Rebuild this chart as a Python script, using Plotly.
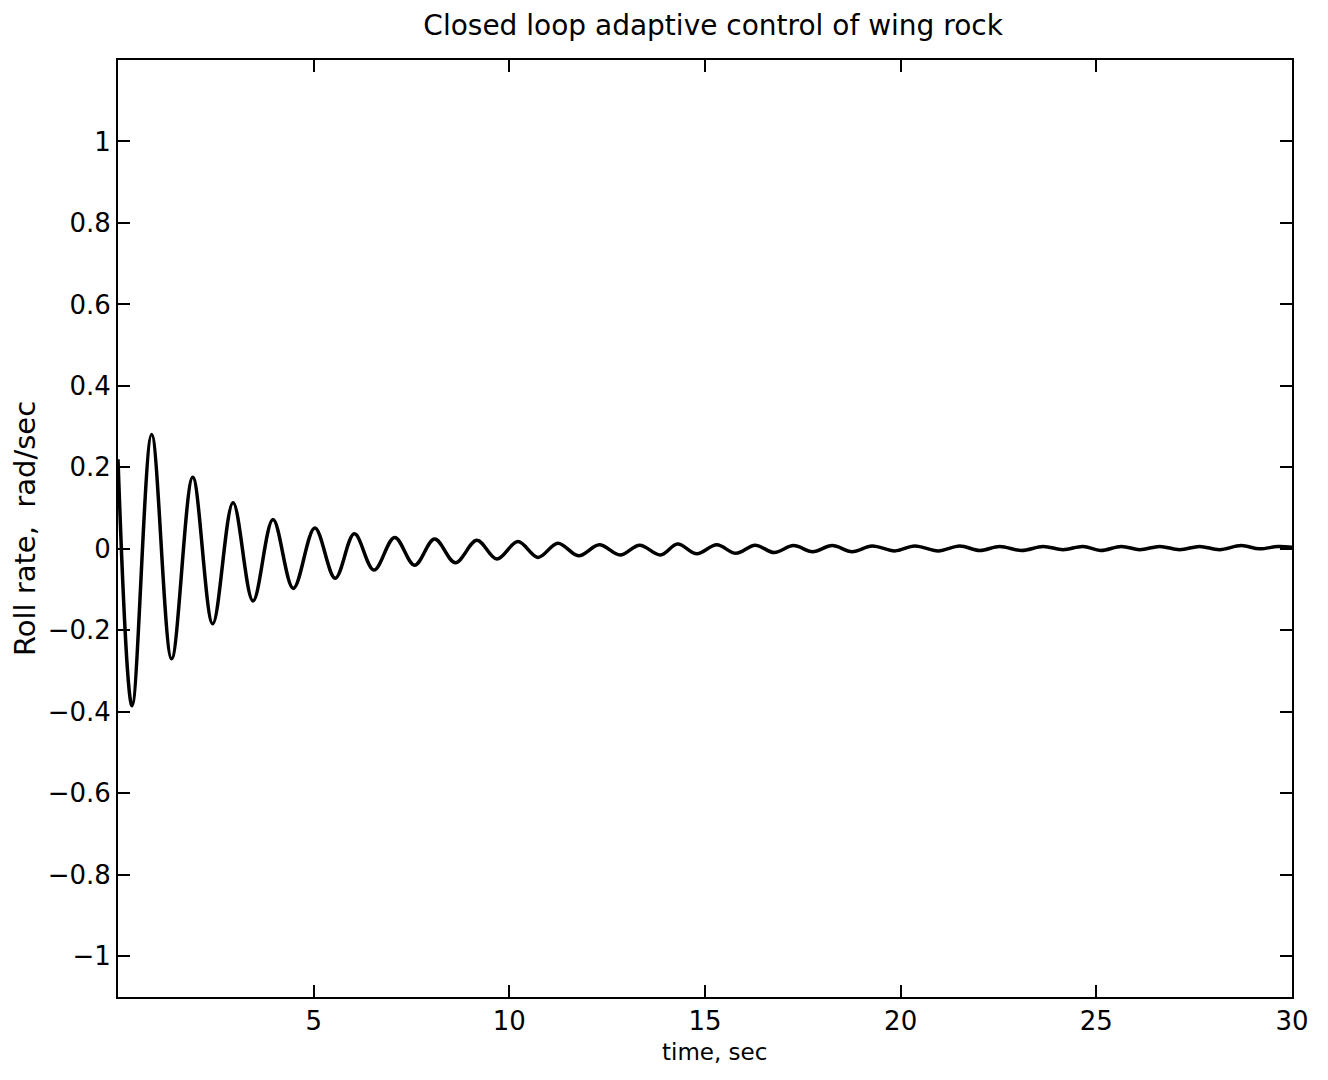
import plotly.graph_objects as go

# Time (s) and roll rate (rad/s) (extrema of the oscillation)
time_s = [0.0, 0.36, 0.86, 1.37, 1.91, 2.42, 2.94, 3.45, 3.96, 4.48, 5.03, 5.55,
          6.04, 6.54, 7.07, 7.58, 8.09, 8.62, 9.17, 9.68, 10.22, 10.73, 11.24, 11.77,
          12.30, 12.83, 13.33, 13.86, 14.30, 14.79, 15.30, 15.79, 16.28, 16.77, 17.26,
          17.75, 18.25, 18.76, 19.27, 19.85, 20.36, 20.96, 21.51, 22.02, 22.53, 23.09,
          23.64, 24.15, 24.66, 25.11, 25.64, 26.11, 26.62, 27.13, 27.64, 28.15, 28.70,
          29.17, 29.64, 30.0]
roll_rate = [0.22, -0.385, 0.281, -0.27, 0.176, -0.184, 0.113, -0.128, 0.072,
             -0.097, 0.051, -0.072, 0.037, -0.052, 0.028, -0.040, 0.024, -0.034, 0.021,
             -0.025, 0.018, -0.021, 0.014, -0.017, 0.010, -0.015, 0.009, -0.015, 0.012,
             -0.012, 0.010, -0.011, 0.009, -0.009, 0.008, -0.007, 0.008, -0.007, 0.007,
             -0.005, 0.007, -0.005, 0.007, -0.004, 0.006, -0.004, 0.006, -0.002, 0.006,
             -0.004, 0.006, -0.002, 0.006, -0.002, 0.006, -0.002, 0.008, 0.0, 0.006,
             0.004]

x_ticks = [5, 10, 15, 20, 25, 30]
y_ticks = [1, 0.8, 0.6, 0.4, 0.2, 0, -0.2, -0.4, -0.6, -0.8, -1]
y_tick_text = ["1", "0.8", "0.6", "0.4", "0.2", "0", "\u22120.2", "\u22120.4",
               "\u22120.6", "\u22120.8", "\u22121"]

FONT = "DejaVu Sans"

fig = go.Figure()
fig.add_trace(go.Scatter(x=time_s, y=roll_rate, mode="lines",
                         line=dict(color="black", width=3.5, shape="spline", smoothing=1.0),
                         showlegend=False))

axis_common = dict(showline=True, linecolor="black", linewidth=2, mirror="ticks",
                   ticks="inside", ticklen=12, tickwidth=2, tickcolor="black",
                   showgrid=False, zeroline=False,
                   tickfont=dict(family=FONT, size=26, color="black"))

fig.update_layout(
    width=1328, height=1080,
    margin=dict(l=118, r=36, t=60, b=83),
    paper_bgcolor="white", plot_bgcolor="white",
    title=dict(text="Closed loop adaptive control of wing rock", x=0.537, xanchor="center",
               y=0.977, yanchor="middle",
               font=dict(family=FONT, size=28, color="black")),
    xaxis=dict(range=[0, 30], tickvals=x_ticks, ticktext=[str(v) for v in x_ticks],
               **axis_common),
    yaxis=dict(range=[-1.1, 1.2], tickvals=y_ticks, ticktext=y_tick_text,
               title=dict(text="Roll rate,  rad/sec", standoff=4,
                          font=dict(family=FONT, size=29, color="black")),
               **axis_common),
    annotations=[dict(text="time, sec", xref="paper", yref="paper", x=0.508, y=-0.0587,
                      xanchor="center", yanchor="middle", showarrow=False,
                      font=dict(family=FONT, size=23, color="black"))],
)

fig.write_html("out.html")
